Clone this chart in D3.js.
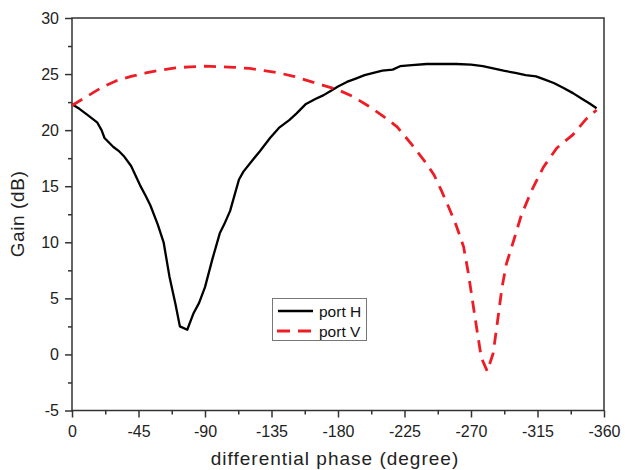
<!DOCTYPE html>
<html><head><meta charset="utf-8">
<script src="https://cdn.jsdelivr.net/npm/d3@7"></script>
<style>body{margin:0;background:#fff}text{font-family:"Liberation Sans",Arial,sans-serif}</style>
</head><body><svg id="c" width="625" height="470"></svg>
<script>
const xTicks = [0,-45,-90,-135,-180,-225,-270,-315,-360];
const yTicks = [-5,0,5,10,15,20,25,30];
const portHPhase = [0,5,10,17,20,22,25,28,32,35,40,46,50,53,58,62,66,70,73,78,82,86,90,95,100,103,107,110,113,116,122,127,134,140,147,152,158,165,170,175,180,186,192,198,204,210,217,222,230,240,250,260,270,278,285,292,300,307,314,320,326,332,339,345,350,355];
const portHGain  = [22.3,21.9,21.4,20.7,20.0,19.3,18.9,18.5,18.1,17.7,16.8,15.1,14.1,13.3,11.6,10.0,6.9,4.5,2.5,2.2,3.6,4.6,6.0,8.5,10.8,11.6,12.8,14.2,15.6,16.3,17.3,18.1,19.3,20.2,20.9,21.5,22.3,22.8,23.1,23.5,23.9,24.3,24.6,24.9,25.1,25.3,25.4,25.7,25.8,25.9,25.9,25.9,25.85,25.7,25.5,25.3,25.1,24.9,24.8,24.5,24.2,23.8,23.3,22.8,22.4,21.95];
const portVPhase = [0,10,20,30,40,50,60,70,80,90,100,110,120,130,140,150,160,170,180,190,200,210,220,230,240,245,250,255,260,265,268,271,274,277,281,285,288,291,294,299,304,311,319,328,339,348,355];
const portVGain  = [22.2,23.0,23.8,24.4,24.8,25.1,25.35,25.55,25.65,25.7,25.65,25.6,25.5,25.3,25.1,24.8,24.4,24.0,23.6,23.0,22.2,21.3,20.3,18.7,17.0,16.0,14.6,13.1,11.5,9.6,7.4,4.8,2.2,-0.3,-1.5,0.1,3.0,6.0,8.1,10.2,12.4,14.6,16.7,18.4,19.6,21.0,21.8];

const svg = d3.select("#c");
const L=72, R=604, T=18, B=410.5;
const x = d3.scaleLinear().domain([0,-360]).range([L,R]);
const y = d3.scaleLinear().domain([-5,30]).range([B,T]);
const ax = "#333";
const fmt = d => String(d);

svg.append("rect").attr("x",L).attr("y",T).attr("width",R-L).attr("height",B-T)
  .attr("fill","none").attr("stroke",ax).attr("stroke-width",1.5);

const xMinor = d3.range(-22.5,-360,-45);
const yMinor = d3.range(-2.5,30,5);
const gx = svg.append("g").attr("transform",`translate(0,${B})`)
  .call(d3.axisBottom(x).tickValues(xTicks).tickSize(7).tickPadding(8).tickFormat(fmt));
const gxm = svg.append("g").attr("transform",`translate(0,${B})`)
  .call(d3.axisBottom(x).tickValues(xMinor).tickSize(4).tickFormat(""));
const gy = svg.append("g").attr("transform",`translate(${L},0)`)
  .call(d3.axisLeft(y).tickValues(yTicks).tickSize(7).tickPadding(6).tickFormat(fmt));
const gym = svg.append("g").attr("transform",`translate(${L},0)`)
  .call(d3.axisLeft(y).tickValues(yMinor).tickSize(4).tickFormat(""));
[gx,gxm,gy,gym].forEach(g=>{
  g.select(".domain").remove();
  g.selectAll("line").attr("stroke",ax).attr("stroke-width",1.5);
  g.selectAll("text").attr("fill","#222").style("font-size","16px").style("font-family","'Liberation Sans',Arial,sans-serif");
});

const line = d3.line().x(d=>x(-d[0])).y(d=>y(d[1]));
svg.append("path").datum(portHPhase.map((p,i)=>[p,portHGain[i]]))
  .attr("d",line).attr("fill","none").attr("stroke","#000").attr("stroke-width",2.3).attr("stroke-linejoin","round");
svg.append("path").datum(portVPhase.map((p,i)=>[p,portVGain[i]]))
  .attr("d",line).attr("fill","none").attr("stroke","#ee1c25").attr("stroke-width",2.8).attr("stroke-dasharray","12,8");

const lg = svg.append("g");
lg.append("rect").attr("x",272.5).attr("y",298.5).attr("width",94).attr("height",42)
  .attr("fill","#fff").attr("stroke","#777").attr("stroke-width",1);
lg.append("line").attr("x1",278).attr("x2",313).attr("y1",311).attr("y2",311).attr("stroke","#000").attr("stroke-width",2.3);
lg.append("line").attr("x1",277).attr("x2",311).attr("y1",331).attr("y2",331).attr("stroke","#ee1c25").attr("stroke-width",2.8).attr("stroke-dasharray","13,8");
lg.append("text").attr("x",319).attr("y",316.5).text("port H").style("font-size","15.5px").attr("fill","#111");
lg.append("text").attr("x",319).attr("y",337).text("port V").style("font-size","15.5px").attr("fill","#111");

svg.append("text").attr("transform","translate(24,214) rotate(-90)").attr("text-anchor","middle")
  .style("font-size","19px").style("letter-spacing","0.6px").attr("fill","#222").text("Gain (dB)");
svg.append("text").attr("x",335).attr("y",465).attr("text-anchor","middle")
  .style("font-size","19px").style("letter-spacing","1px").attr("fill","#222").text("differential phase (degree)");
</script></body></html>
